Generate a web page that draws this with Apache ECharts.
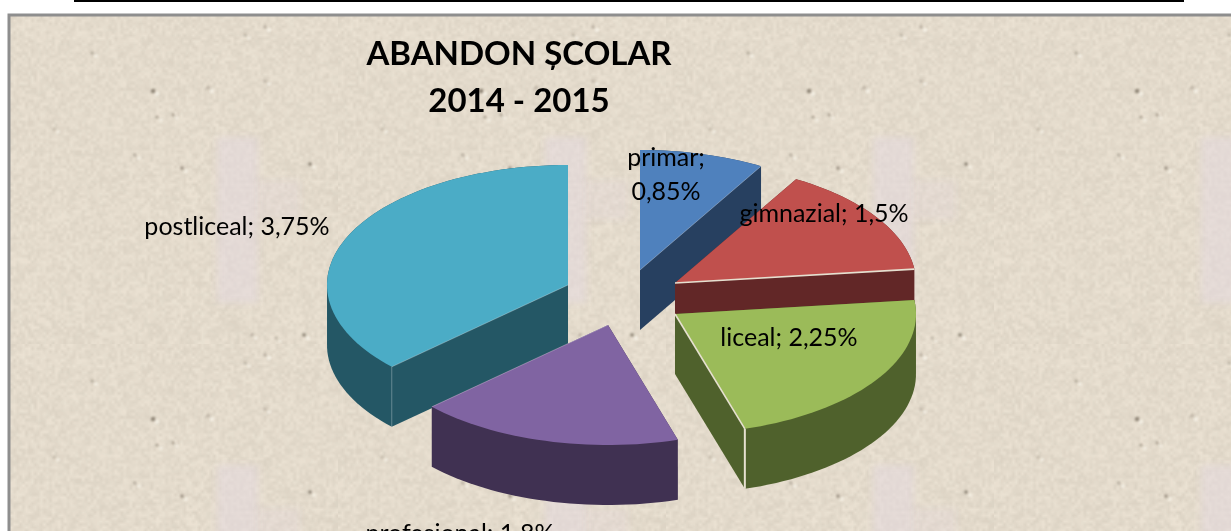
<!DOCTYPE html>
<html>
<head>
<meta charset="utf-8">
<style>html,body{margin:0;padding:0;background:#fff;overflow:hidden}#c{width:1231px;height:531px}</style>
<script src="https://cdn.jsdelivr.net/npm/echarts@6/dist/echarts.min.js"></script>
</head>
<body>
<div id="c"></div>
<script>
const titleLines = ['ABANDON ȘCOLAR', '2014 - 2015'];
const categories = ['primar', 'gimnazial', 'liceal', 'profesional', 'postliceal'];
const valuesPct = [0.85, 1.5, 2.25, 1.8, 3.75];
const topColors = ['#4F81BD', '#C0504D', '#9BBB59', '#8064A2', '#4BACC6'];
const sideColors = ['#274060', '#622727', '#4F612C', '#403152', '#245765'];
// exploded slice centres, painter's order and label anchors: layout only
const sliceCenters = [[640, 270], [675, 283], [675, 314], [608, 325], [568, 285]];
const paintOrder = [0, 1, 4, 2, 3];
const labelAnchors = [[666, 175], [824, 214], [789, 338], [460, 534], [237, 227]];
const labelBreak = [true, false, false, false, false];
const RX = 241, RY = 120, DEPTH = 60;
const LABEL_FONT = '25px Lato, "Open Sans", sans-serif';

function fmt(v) { return String(v).replace('.', ','); }
const total = valuesPct.reduce((a, b) => a + b, 0);

function rimPoint(c, deg) {
  const r = deg * Math.PI / 180;
  return [c[0] + RX * Math.sin(r), c[1] - RY * Math.cos(r)];
}
function hull(pts) {
  const p = pts.slice().sort((a, b) => a[0] - b[0] || a[1] - b[1]);
  const cross = (o, a, b) => (a[0] - o[0]) * (b[1] - o[1]) - (a[1] - o[1]) * (b[0] - o[0]);
  const lo = [], up = [];
  for (const q of p) { while (lo.length > 1 && cross(lo[lo.length - 2], lo[lo.length - 1], q) <= 0) lo.pop(); lo.push(q); }
  for (const q of p.slice().reverse()) { while (up.length > 1 && cross(up[up.length - 2], up[up.length - 1], q) <= 0) up.pop(); up.push(q); }
  return lo.slice(0, -1).concat(up.slice(0, -1));
}

// paper texture tile (deterministic generator, decoration only)
function makeTile() {
  const S = 328, X0 = 10, Y0 = 16;
  let seed = 12345;
  const rnd = () => (seed = (seed * 1664525 + 1013904223) >>> 0) / 4294967296;
  const noiseLayer = (cell, amp) => {
    const w = Math.ceil(S / cell);
    const c = document.createElement('canvas'); c.width = c.height = w;
    const x = c.getContext('2d');
    const im = x.createImageData(w, w);
    for (let i = 0; i < im.data.length; i += 4) {
      const n = (rnd() - 0.5) * amp;
      im.data[i] = 228 + n; im.data[i + 1] = 219 + n; im.data[i + 2] = 204 + n; im.data[i + 3] = 255;
    }
    x.putImageData(im, 0, 0);
    return c;
  };
  const t = document.createElement('canvas'); t.width = t.height = S;
  const g = t.getContext('2d');
  g.imageSmoothingEnabled = true;
  g.drawImage(noiseLayer(3, 18), 0, 0, S, S);
  g.globalAlpha = 0.2;
  g.drawImage(noiseLayer(7, 14), 0, 0, S, S);
  g.globalAlpha = 1;
  const wrap = (x, y, fn) => fn(((x - X0) % S + S) % S, ((y - Y0) % S + S) % S);
  g.filter = 'blur(3px)';
  g.fillStyle = 'rgba(228,216,222,0.55)';
  wrap(217, 137, (x, y) => g.fillRect(x, y, 41, 166));
  g.fillStyle = 'rgba(228,216,222,0.3)';
  wrap(258, 180, (x, y) => g.fillRect(x, y, 42, 40));
  g.filter = 'blur(0.8px)';
  const specks = [[153, 91, 2.2, .6], [92, 53, 1.6, .35], [265, 27, 2, .25], [245, 35, 1.5, .35], [265, 81, 1.8, .25],
    [208, 88, 2, .25], [157, 117, 1.6, .45], [173, 115, 1.5, .45], [54, 129, 1.6, .25], [310, 164, 1.7, .7], [182, 168, 1.7, .5],
    [135, 155, 1.8, .3], [304, 335, 2, .55], [252, 335, 1.8, .3], [276, 338, 1.4, .3]];
  for (const s of specks) wrap(s[0], s[1], (x, y) => {
    g.fillStyle = 'rgba(250,246,236,0.7)';
    g.beginPath(); g.arc(x + 4, y + 3, s[2] * 1.1, 0, 7); g.fill();
    g.fillStyle = 'rgba(90,80,65,' + s[3] + ')';
    g.beginPath(); g.arc(x, y, s[2], 0, 7); g.fill();
  });
  g.filter = 'none';
  const out = document.createElement('canvas'); out.width = out.height = S;
  const o = out.getContext('2d');
  for (let ix = 0; ix < 2; ix++) for (let iy = 0; iy < 2; iy++) o.drawImage(t, X0 + (ix - 1) * S, Y0 + (iy - 1) * S);
  return out;
}

function renderSlice(params, api) {
  const i = api.value(0);
  const v = api.value(1);
  let start = 0;
  for (let k = 0; k < i; k++) start += valuesPct[k];
  const a0 = start / total * 360, a1 = (start + v) / total * 360;
  const c = sliceCenters[i];
  const top = [c];
  const n = Math.max(4, Math.ceil((a1 - a0) / 2));
  for (let k = 0; k <= n; k++) top.push(rimPoint(c, a0 + (a1 - a0) * k / n));
  const shifted = top.map(p => [p[0], p[1] + DEPTH]);
  const z = 10 + paintOrder.indexOf(i) * 10;
  const children = [
    { type: 'polygon', z2: z, shape: { points: hull(top.concat(shifted)) }, style: { fill: sideColors[i] } },
    { type: 'polygon', z2: z + 1, shape: { points: top }, style: { fill: topColors[i] } }
  ];
  const edgeDeg = a1 > 300 ? a0 : a1;
  const e = rimPoint(c, edgeDeg);
  const bright = (i === 1 || i === 2);
  children.push({ type: 'line', z2: z + 2, shape: { x1: c[0], y1: c[1], x2: e[0], y2: e[1] },
    style: { stroke: bright ? '#E6E0D0' : 'rgba(255,255,255,0.3)', lineWidth: bright ? 1.6 : 1 } });
  if (i === 2 || i === 4) children.push({ type: 'line', z2: z + 2, shape: { x1: e[0], y1: e[1], x2: e[0], y2: e[1] + DEPTH },
    style: { stroke: i === 2 ? '#E6E0D0' : 'rgba(255,255,255,0.3)', lineWidth: i === 2 ? 2 : 1 } });
  return { type: 'group', children };
}

function renderLabel(params, api) {
  const i = api.value(0);
  const sep = labelBreak[i] ? ';\n' : '; ';
  return { type: 'text', z2: 200, style: {
    x: labelAnchors[i][0], y: labelAnchors[i][1],
    text: categories[i] + sep + fmt(valuesPct[i]) + '%',
    font: LABEL_FONT, fill: '#000', align: 'center', verticalAlign: 'middle', lineHeight: 34
  } };
}

const chart = echarts.init(document.getElementById('c'), null, { renderer: 'canvas' });
chart.setOption({
  animation: false,
  backgroundColor: '#fff',
  title: {
    text: titleLines.join('\n'),
    left: 514, top: 26, textAlign: 'center',
    textStyle: { fontFamily: 'Lato, "Open Sans", sans-serif', fontWeight: 'bold', fontSize: 33, lineHeight: 47, color: '#000' }
  },
  graphic: [
    { type: 'rect', z: -2, shape: { x: 74, y: 0, width: 1110, height: 2 }, style: { fill: '#000' } },
    { type: 'rect', z: -2, shape: { x: 9, y: 15, width: 1240, height: 540 },
      style: { fill: { image: makeTile(), repeat: 'repeat' }, stroke: '#8E8E8E', lineWidth: 3 } }
  ],
  series: [
    { type: 'custom', coordinateSystem: 'none', silent: true, renderItem: renderSlice, clip: false,
      data: paintOrder.map(i => [i, valuesPct[i]]) },
    { type: 'custom', coordinateSystem: 'none', silent: true, renderItem: renderLabel, clip: false,
      data: categories.map((c, i) => [i, valuesPct[i]]) }
  ]
});
</script>
</body>
</html>
